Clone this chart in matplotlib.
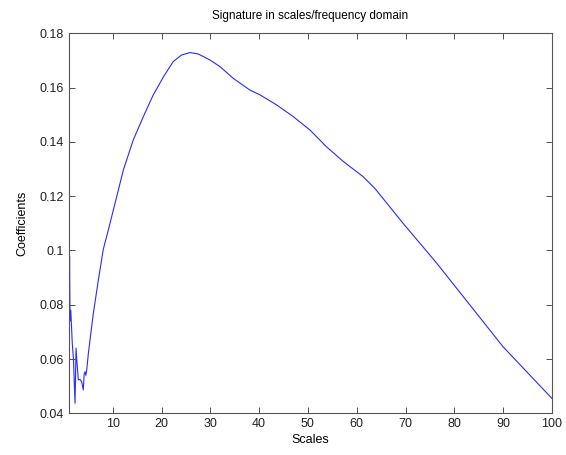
import matplotlib
matplotlib.use("Agg")
import matplotlib.pyplot as plt

plt.rcParams["font.family"] = ["Liberation Sans", "DejaVu Sans"]
plt.rcParams["font.size"] = 9

# scales (x) and coefficients (y)
scales = [1.0, 1.08, 1.15, 1.25, 1.4, 1.7, 1.95, 2.27, 2.48, 2.7, 2.95, 3.3,
          3.64, 3.97, 4.15, 4.32, 4.5, 4.67, 5.0, 5.34, 6.02, 7.05, 8.07,
          9.09, 10.47, 12.17, 14.2, 16.27, 18.3, 20.4, 22.4, 24.1, 25.8, 27.5,
          29.9, 32.0, 34.7, 38.1, 40.2, 43.6, 47.0, 50.4, 53.8, 57.3, 61.3,
          63.7, 69.5, 76.4, 83.2, 90.0, 100.0]
coeffs = [0.102, 0.076, 0.098, 0.074, 0.078, 0.066, 0.060, 0.0437, 0.064,
          0.058, 0.0523, 0.0525, 0.0516, 0.0486, 0.0545, 0.0553, 0.054, 0.056,
          0.062, 0.067, 0.0768, 0.0891, 0.1005, 0.1075, 0.1174, 0.1296,
          0.1407, 0.1493, 0.1573, 0.164, 0.1696, 0.172, 0.1729, 0.1724,
          0.1702, 0.1677, 0.1634, 0.1591, 0.1573, 0.1536, 0.1493, 0.1444,
          0.1382, 0.1327, 0.1272, 0.1229, 0.110, 0.0953, 0.0799, 0.0645, 0.0455]

xticks = [10, 20, 30, 40, 50, 60, 70, 80, 90, 100]
yticks = [0.04, 0.06, 0.08, 0.1, 0.12, 0.14, 0.16, 0.18]
ytick_labels = ["0.04", "0.06", "0.08", "0.1", "0.12", "0.14", "0.16", "0.18"]

fig = plt.figure(figsize=(5.66, 4.55), dpi=100)
ax = fig.add_axes([0.1216, 0.0916, 0.8535, 0.8352])

ax.plot(scales, coeffs, color="#2a2aff", linewidth=0.8)

ax.set_xlim(1, 100)
ax.set_ylim(0.04, 0.18)
ax.set_xticks(xticks)
ax.set_yticks(yticks)
ax.set_yticklabels(ytick_labels)
ax.tick_params(direction="in", top=True, right=True, length=4, width=0.6,
               colors="#333333", labelcolor="#222222")
for s in ax.spines.values():
    s.set_linewidth(0.8)
    s.set_color("#555555")

ax.set_title("Signature in scales/frequency domain", fontsize=8.5, pad=10)
ax.set_xlabel("Scales", labelpad=3)
ax.set_ylabel("Coefficients", labelpad=8)

fig.savefig("out.png", dpi=100)
